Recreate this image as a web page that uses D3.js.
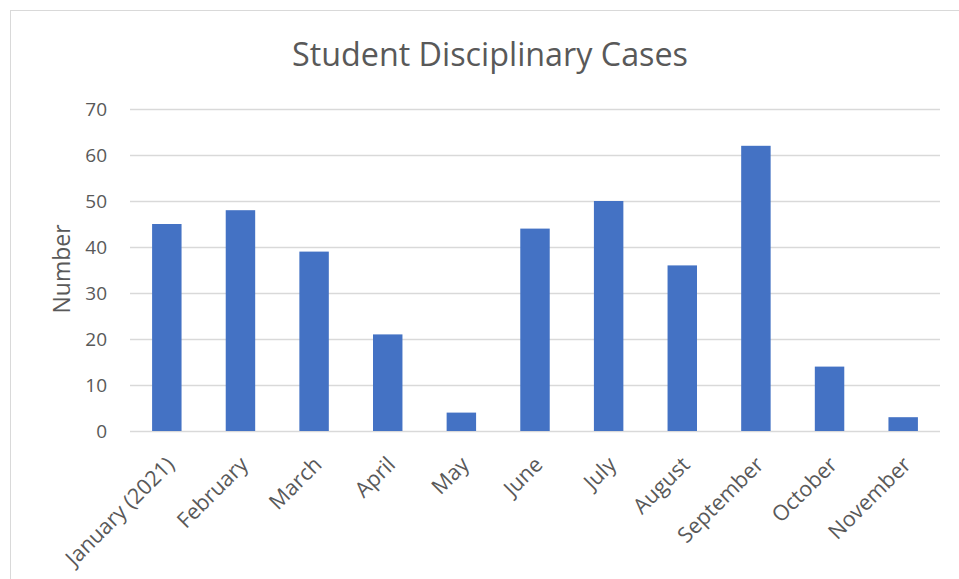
<!DOCTYPE html>
<html>
<head>
<meta charset="utf-8">
<script src="https://cdn.jsdelivr.net/npm/d3@7"></script>
<style>
  body { margin: 0; background: #fff; }
  text { font-family: "Open Sans", Lato, sans-serif; fill: #595959; }
</style>
</head>
<body>
<svg id="chart" width="959" height="579"></svg>
<script>
/* Data */
var months = ["January (2021)", "February", "March", "April", "May", "June",
              "July", "August", "September", "October", "November"];
var cases = [45, 48, 39, 21, 4, 44, 50, 36, 62, 14, 3];
var yTicks = [0, 10, 20, 30, 40, 50, 60, 70];

var svg = d3.select("#chart");

// chart area frame
svg.append("rect")
  .attr("x", 10.5).attr("y", 10.5)
  .attr("width", 970).attr("height", 580)
  .attr("fill", "#fff")
  .attr("stroke", "#d9d9d9");

var plotLeft = 130, plotRight = 940, plotTop = 109, plotBottom = 431;

var x = d3.scaleBand()
  .domain(months)
  .range([plotLeft, plotRight])
  .paddingInner(0.6)
  .paddingOuter(0.3);

var y = d3.scaleLinear()
  .domain([0, 70])
  .range([plotBottom, plotTop]);

/* gridlines */
svg.append("g")
  .attr("transform", "translate(" + plotLeft + ",0)")
  .call(d3.axisLeft(y).tickValues(yTicks).tickSize(-(plotRight - plotLeft)).tickFormat(""))
  .call(g => g.select(".domain").remove())
  .call(g => g.selectAll("line").attr("stroke", "#d9d9d9").attr("stroke-width", 1.3));

/* y tick labels */
svg.append("g")
  .selectAll("text")
  .data(yTicks)
  .enter()
  .append("text")
    .attr("x", 107)
    .attr("y", d => y(d))
    .attr("dy", "0.36em")
    .attr("text-anchor", "end")
    .style("font-size", "19px")
    .text(d => d);

/* bars */
svg.append("g")
  .selectAll("rect")
  .data(months)
  .enter()
  .append("rect")
    .attr("x", d => x(d))
    .attr("width", x.bandwidth())
    .attr("y", (d, i) => y(cases[i]))
    .attr("height", (d, i) => y(0) - y(cases[i]))
    .attr("fill", "#4472c4");

/* x labels, rotated */
svg.append("g")
  .selectAll("text")
  .data(months)
  .enter()
  .append("text")
    .attr("transform", d => "translate(" + (x(d) + x.bandwidth() / 2 - 2) + ",455) rotate(-45)")
    .attr("dy", "0.72em")
    .attr("text-anchor", "end")
    .style("font-size", "21.5px")
    .text(d => d);

/* axis title */
svg.append("text")
  .attr("transform", "translate(70,269) rotate(-90)")
  .attr("text-anchor", "middle")
  .style("font-size", "23px")
  .text("Number");

/* chart title */
svg.append("text")
  .attr("x", 490)
  .attr("y", 66)
  .attr("text-anchor", "middle")
  .style("font-size", "32.3px")
  .text("Student Disciplinary Cases");
</script>
</body>
</html>
